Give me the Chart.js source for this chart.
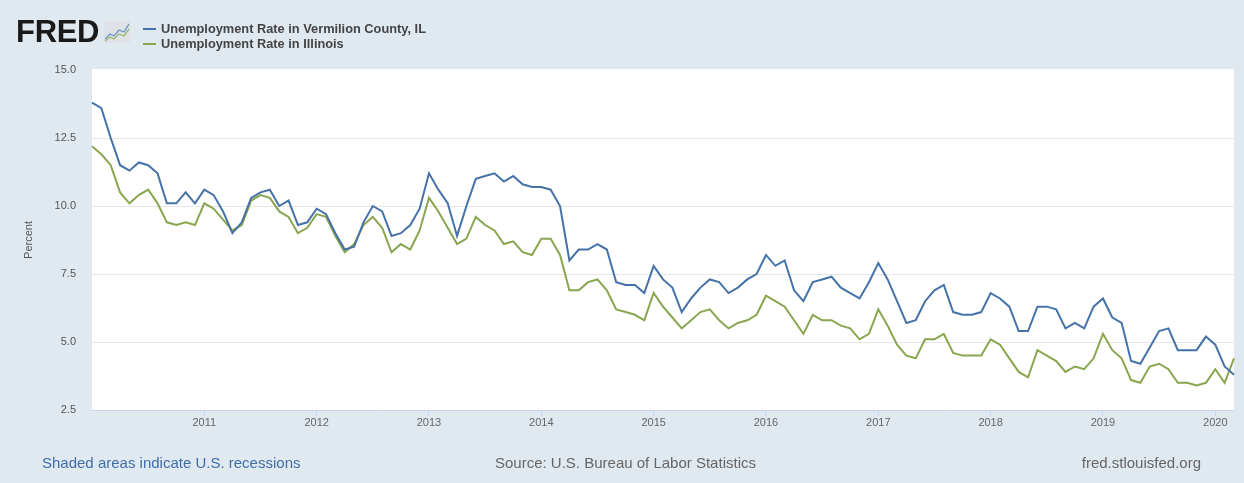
<!DOCTYPE html>
<html>
<head>
<meta charset="utf-8">
<script src="https://cdn.jsdelivr.net/npm/chart.js@4.4.1/dist/chart.umd.min.js"></script>
<style>
html,body{margin:0;padding:0;background:#e1e9f0;}
#wrap{position:relative;width:1244px;height:483px;background:#e1e9f0;font-family:"Liberation Sans",Arial,sans-serif;overflow:hidden;}
#c{position:absolute;left:0;top:0;}
.abs{position:absolute;white-space:nowrap;}
#logo{left:16px;top:14px;font-weight:bold;font-size:31px;letter-spacing:-0.3px;color:#1a1a1a;line-height:36px;}
#icon{left:104px;top:21px;}
.leg{left:143px;font-size:12.8px;font-weight:bold;color:#444;line-height:15px;}
.leg i{display:inline-block;width:13px;height:2px;vertical-align:middle;margin-right:5px;position:relative;top:-1px;}
#foot1{left:42px;top:454px;font-size:15px;color:#3d6ea9;}
#foot2{left:495px;top:454px;font-size:15px;color:#666;}
#foot3{right:43px;top:454px;font-size:15px;color:#666;}
</style>
</head>
<body>
<div id="wrap">
<canvas id="c" width="1244" height="483"></canvas>
<div id="logo" class="abs">FRED</div>
<svg id="icon" class="abs" width="26" height="22" viewBox="0 0 26 22">
<rect x="0" y="0" width="26" height="22" fill="#dfe3e8"/>
<polyline points="1,18 6,13 10,15 15,9 20,11 25,3" fill="none" stroke="#6e93c4" stroke-width="1.3"/>
<polyline points="1,20 6,16 10,18 15,13 20,15 25,8" fill="none" stroke="#9bb86a" stroke-width="1.3"/>
</svg>
<div class="abs leg" style="top:21px"><i style="background:#4572a7"></i>Unemployment Rate in Vermilion County, IL</div>
<div class="abs leg" style="top:36px"><i style="background:#89a54e"></i>Unemployment Rate in Illinois</div>
<div id="foot1" class="abs">Shaded areas indicate U.S. recessions</div>
<div id="foot2" class="abs">Source: U.S. Bureau of Labor Statistics</div>
<div id="foot3" class="abs">fred.stlouisfed.org</div>
</div>
<script>
// Monthly observations, Jan 2010 .. Mar 2020
const startYear = 2010;
const monthCount = 123;
const yearTicks = ['2011','2012','2013','2014','2015','2016','2017','2018','2019','2020'];
const vermilion = [
 13.8,13.6,12.5,11.5,11.3,11.6,11.5,11.2,10.1,10.1,10.5,10.1,
 10.6,10.4,9.8,9.0,9.4,10.3,10.5,10.6,10.0,10.2,9.3,9.4,
 9.9,9.7,9.0,8.4,8.5,9.4,10.0,9.8,8.9,9.0,9.3,9.9,
 11.2,10.6,10.1,8.9,10.0,11.0,11.1,11.2,10.9,11.1,10.8,10.7,
 10.7,10.6,10.0,8.0,8.4,8.4,8.6,8.4,7.2,7.1,7.1,6.8,
 7.8,7.3,7.0,6.1,6.6,7.0,7.3,7.2,6.8,7.0,7.3,7.5,
 8.2,7.8,8.0,6.9,6.5,7.2,7.3,7.4,7.0,6.8,6.6,7.2,
 7.9,7.3,6.5,5.7,5.8,6.5,6.9,7.1,6.1,6.0,6.0,6.1,
 6.8,6.6,6.3,5.4,5.4,6.3,6.3,6.2,5.5,5.7,5.5,6.3,
 6.6,5.9,5.7,4.3,4.2,4.8,5.4,5.5,4.7,4.7,4.7,5.2,
 4.9,4.1,3.8
];
const illinois = [
 12.2,11.9,11.5,10.5,10.1,10.4,10.6,10.1,9.4,9.3,9.4,9.3,
 10.1,9.9,9.5,9.1,9.3,10.2,10.4,10.3,9.8,9.6,9.0,9.2,
 9.7,9.6,8.9,8.3,8.6,9.3,9.6,9.2,8.3,8.6,8.4,9.1,
 10.3,9.8,9.2,8.6,8.8,9.6,9.3,9.1,8.6,8.7,8.3,8.2,
 8.8,8.8,8.2,6.9,6.9,7.2,7.3,6.9,6.2,6.1,6.0,5.8,
 6.8,6.3,5.9,5.5,5.8,6.1,6.2,5.8,5.5,5.7,5.8,6.0,
 6.7,6.5,6.3,5.8,5.3,6.0,5.8,5.8,5.6,5.5,5.1,5.3,
 6.2,5.6,4.9,4.5,4.4,5.1,5.1,5.3,4.6,4.5,4.5,4.5,
 5.1,4.9,4.4,3.9,3.7,4.7,4.5,4.3,3.9,4.1,4.0,4.4,
 5.3,4.7,4.4,3.6,3.5,4.1,4.2,4.0,3.5,3.5,3.4,3.5,
 4.0,3.5,4.4
];
const months = [];
for (let i = 0; i < monthCount; i++) {
  const y = startYear + Math.floor(i / 12), m = (i % 12) + 1;
  months.push(y + '-' + (m < 10 ? '0' + m : m));
}
function isYearTick(i) {
  const lab = months[i];
  return lab && lab.endsWith('-01') && yearTicks.includes(lab.slice(0, 4));
}
const plotBg = {
  id: 'plotBg',
  beforeDraw(chart) {
    const a = chart.chartArea, ctx = chart.ctx;
    ctx.save();
    ctx.fillStyle = '#ffffff';
    ctx.fillRect(a.left, a.top - 1, a.right - a.left, a.bottom - a.top + 1);
    ctx.restore();
  }
};
new Chart(document.getElementById('c'), {
  type: 'line',
  data: {
    labels: months,
    datasets: [
      {label: 'Unemployment Rate in Vermilion County, IL', data: vermilion, borderColor: '#4572a7', borderWidth: 2, pointRadius: 0, tension: 0},
      {label: 'Unemployment Rate in Illinois', data: illinois, borderColor: '#89a54e', borderWidth: 2, pointRadius: 0, tension: 0}
    ]
  },
  options: {
    responsive: false,
    animation: false,
    layout: {padding: {top: 70, right: 10, left: 0, bottom: 0}},
    plugins: {legend: {display: false}, tooltip: {enabled: false}},
    scales: {
      x: {
        type: 'category',
        offset: false,
        afterFit(s) { s.height = 73; },
        border: {color: '#ccd6eb'},
        grid: {
          drawOnChartArea: false,
          drawTicks: true,
          tickLength: 6,
          color: (ctx) => isYearTick(ctx.index) ? '#ccd6eb' : 'rgba(0,0,0,0)'
        },
        ticks: {
          autoSkip: false,
          maxRotation: 0,
          padding: 0,
          color: '#666',
          font: {family: '"Liberation Sans", Arial, sans-serif', size: 11},
          callback(v, i) { return isYearTick(i) ? months[i].slice(0, 4) : ''; }
        }
      },
      y: {
        min: 2.5, max: 15,
        afterFit(s) { s.width = 92; },
        border: {display: false},
        grid: {
          drawTicks: false,
          color: (ctx) => (ctx.tick && ctx.tick.value >= 15) ? 'rgba(0,0,0,0)' : '#e6e6e6'
        },
        ticks: {
          stepSize: 2.5,
          padding: 16,
          color: '#555',
          font: {family: '"Liberation Sans", Arial, sans-serif', size: 11},
          callback: (v) => Number(v).toFixed(1)
        },
        title: {
          display: true, text: 'Percent', color: '#555',
          font: {family: '"Liberation Sans", Arial, sans-serif', size: 11},
          padding: {top: 22, bottom: 0}
        }
      }
    }
  },
  plugins: [plotBg]
});
</script>
</body>
</html>
